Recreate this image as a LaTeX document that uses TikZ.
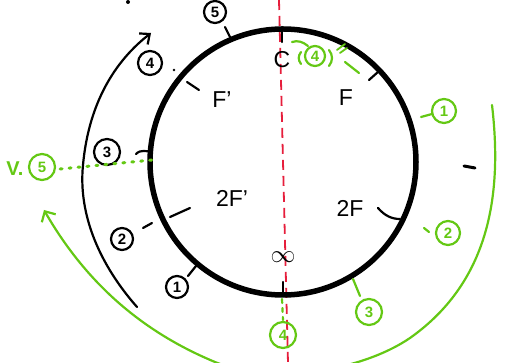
\documentclass[tikz,border=0pt]{standalone}
\usepackage{fontspec}
\setmainfont{Liberation Sans}
\usetikzlibrary{arrows.meta}
\definecolor{grn}{RGB}{100,200,20}
\definecolor{rd}{RGB}{230,30,60}
\begin{document}
\begin{tikzpicture}[x=1pt,y=-1pt,
  blk/.style={draw=black,line width=2.2pt,line cap=round},
  gline/.style={draw=grn,line width=2.2pt,line cap=round},
  cnum/.style={circle,draw,line width=2.2pt,inner sep=0pt,minimum size=#1,font=\fontsize{15}{15}\selectfont\bfseries},
  cnum/.default=22pt,
  lbl/.style={font=\fontsize{23}{23}\selectfont,inner sep=0pt},
  gnum/.style={cnum=#1,draw=grn,text=grn},
  gnum/.default=24pt]
\useasboundingbox (0,0) rectangle (512,363);
\begin{scope}
\clip (0,0) rectangle (512,363);
% red axis
\coordinate (rtop) at (279,0);
\coordinate (rbot) at (288,363);
\draw[rd,line width=1.8pt,dash pattern=on 10pt off 6pt] (rtop) -- (rbot);
% main circle
\node[circle,draw,line width=5.5pt,minimum size=266pt,inner sep=0pt] (ring) at (283,162) {};
% ticks and labels on circle
\draw[blk] (282,27) -- (282,42);
\node[lbl] (c) at (282,60) {C};
\draw[blk] (369,80) -- (378,72);
\node[lbl] (f) at (346,98) {F};
\draw[blk] (187,82) -- (199,90);
\node[lbl] (fp) at (222,100) {F’};
\draw[blk] (170,217) -- (190,208);
\node[lbl] (tfp) at (232,198) {2F’};
\draw[blk] (378,208) .. controls (385,216) and (392,219) .. (400,219);
\node[lbl] (tf) at (350,208) {2F};
\draw[blk] (283,282) -- (283,292);
\node[lbl,font=\fontsize{28}{28}\selectfont] (inf) at (283,257) {$\infty$};
% black circled numbers
\node[cnum=22pt] (b5) at (215,12) {5};
\draw[blk] (225,27) -- (230,37);
\node[cnum=24pt] (b4) at (150,63) {4};
\fill (174,70) circle (1.4pt);
\node[cnum=26pt] (b3) at (107,152) {3};
\draw[blk] (136,154) .. controls (141,149) and (145,152) .. (152,151);
\node[cnum=22pt] (b2) at (122,239) {2};
\draw[blk] (143,228) -- (152,223);
\node[cnum=22pt] (b1) at (177,287) {1};
\draw[blk] (188,276) -- (196,266);
% black arrow
\coordinate (ba0) at (137,307);
\coordinate (ba1) at (151,33);
\draw[blk,-{Straight Barb[length=8pt,width=14pt]}] (ba0) .. controls (100,265) and (78,215) .. (83,165) .. controls (88,110) and (110,65) .. (ba1);
% stray marks
\fill (128,2) circle (2pt);
\draw[blk,line width=3pt] (464,166) -- (475,168);
% green numbers
\node[gnum=24pt] (g1) at (444,111) {1};
\draw[gline] (421,117) -- (432,114);
\node[gnum=24pt] (g2) at (448,233) {2};
\draw[gline] (424,228) -- (429,232);
\node[gnum=26pt] (g3) at (369,312) {3};
\draw[gline] (353,279) -- (360,296);
\node[gnum=26pt] (g4b) at (283,335) {4};
\draw[gline,dash pattern=on 4pt off 5pt] (282,299) -- (283,320);
\node[gnum=20pt] (g4t) at (315,56) {4};
\draw[gline] (301,52) .. controls (298,56) and (298,60) .. (301,64);
\draw[gline] (329,50) .. controls (333,55) and (333,61) .. (329,66);
\draw[gline] (292,42) .. controls (298,40) and (303,42) .. (308,46);
\draw[gline,line width=1.8pt] (337,50) -- (345,44);
\draw[gline,line width=1.8pt] (340,53) -- (347,48);
\draw[gline] (345,62) -- (359,73);
% V.5
\node[text=grn,font=\fontsize{20}{20}\selectfont\bfseries,inner sep=0pt] (v) at (15,169) {V.};
\node[gnum=26pt] (g5) at (42,167) {5};
\coordinate (dotend) at (152,160);
\draw[grn,line width=3pt,line cap=round,dash pattern=on 2pt off 7pt] (g5.east) ++(4,2) -- (dotend);
% big green arrow
\coordinate (ga0) at (492,105);
\coordinate (ga1) at (44,210);
\draw[gline,-{Straight Barb[length=8pt,width=16pt]}] (ga0) .. controls (502,190) and (492,280) .. (410,338) .. controls (360,372) and (270,385) .. (215,362) .. controls (150,335) and (90,290) .. (ga1);
\end{scope}
\end{tikzpicture}
\end{document}
